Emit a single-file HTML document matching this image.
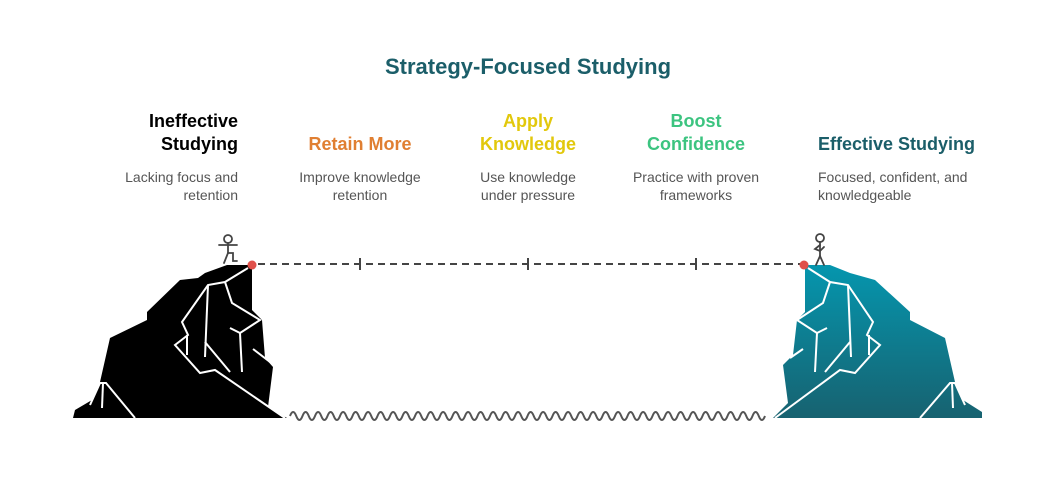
<!DOCTYPE html>
<html><head><meta charset="utf-8"><style>
html,body{margin:0;padding:0;background:#fff;}
svg{display:block;font-family:"Liberation Sans",Arial,sans-serif;}
</style></head><body>
<svg width="1056" height="492" viewBox="0 0 1056 492" xmlns="http://www.w3.org/2000/svg">
<defs>
<linearGradient id="tg" x1="0" y1="0" x2="0" y2="1">
<stop offset="0" stop-color="#0596ae"/><stop offset="1" stop-color="#176270"/>
</linearGradient>
</defs>
<text x="528" y="74" text-anchor="middle" font-size="22" font-weight="bold" fill="#1b5e69">Strategy-Focused Studying</text>

<g font-size="18" font-weight="bold">
<text x="238" y="127" text-anchor="end" fill="#000">Ineffective</text>
<text x="238" y="150" text-anchor="end" fill="#000">Studying</text>
<text x="360" y="150" text-anchor="middle" fill="#e07f32">Retain More</text>
<text x="528" y="127" text-anchor="middle" fill="#e2c80c">Apply</text>
<text x="528" y="150" text-anchor="middle" fill="#e2c80c">Knowledge</text>
<text x="696" y="127" text-anchor="middle" fill="#3cc480">Boost</text>
<text x="696" y="150" text-anchor="middle" fill="#3cc480">Confidence</text>
<text x="818" y="150" fill="#1b5e69">Effective Studying</text>
</g>
<g font-size="14" fill="#555">
<text x="238" y="182" text-anchor="end">Lacking focus and</text>
<text x="238" y="200" text-anchor="end">retention</text>
<text x="360" y="182" text-anchor="middle">Improve knowledge</text>
<text x="360" y="200" text-anchor="middle">retention</text>
<text x="528" y="182" text-anchor="middle">Use knowledge</text>
<text x="528" y="200" text-anchor="middle">under pressure</text>
<text x="696" y="182" text-anchor="middle">Practice with proven</text>
<text x="696" y="200" text-anchor="middle">frameworks</text>
<text x="818" y="182">Focused, confident, and</text>
<text x="818" y="200">knowledgeable</text>
</g>

<line x1="258" y1="264" x2="800" y2="264" stroke="#444" stroke-width="2" stroke-dasharray="7,5"/>
<g stroke="#444" stroke-width="2">
<line x1="360" y1="258" x2="360" y2="270"/>
<line x1="528" y1="258" x2="528" y2="270"/>
<line x1="696" y1="258" x2="696" y2="270"/>
</g>

<polygon fill="#000" points="73,418 75,410 92,400 100,382 110,338 147,320 147,312 180,280 198,278 205,273 227,265 252,265 252,310 262,320 265,358 273,367 268,407 287,418"/>
<g stroke="#fff" stroke-width="2" fill="none">
<polyline points="248,268 225,282 208,285 182,322 188,335 175,345 200,373 215,370 285,418"/>
<polyline points="225,282 232,303 260,320 240,333 242,372"/>
<line x1="230" y1="328" x2="240" y2="333"/>
<line x1="208" y1="285" x2="205" y2="357"/>
<line x1="187" y1="335" x2="187" y2="355"/>
<line x1="205" y1="342" x2="230" y2="372"/>
<line x1="253" y1="349" x2="270" y2="362"/>
<polyline points="90,405 100,383 106,383 135,418"/>
<line x1="103" y1="383" x2="102" y2="408"/>
</g>
<circle cx="252" cy="265" r="4.5" fill="#e0504a"/>

<polygon fill="url(#tg)" points="773,418 788,403 783,365 793,355 797,320 805,312 805,265 830,265 850,273 875,280 910,312 910,320 945,338 955,382 963,400 982,412 982,418"/>
<g stroke="#fff" stroke-width="2" fill="none">
<polyline points="808,268 830,282 848,285 873,322 867,335 880,345 855,373 840,370 775,418"/>
<polyline points="830,282 823,303 797,320 817,333 815,372"/>
<line x1="827" y1="328" x2="817" y2="333"/>
<line x1="848" y1="285" x2="851" y2="357"/>
<line x1="869" y1="335" x2="869" y2="355"/>
<line x1="850" y1="342" x2="825" y2="372"/>
<line x1="803" y1="349" x2="790" y2="358"/>
<polyline points="920,418 950,383 955,383 965,405"/>
<line x1="952" y1="383" x2="953" y2="408"/>
</g>
<circle cx="804" cy="265" r="4.5" fill="#e0504a"/>

<g stroke="#444" stroke-width="1.8" fill="none" stroke-linecap="round">
<circle cx="228" cy="239" r="4"/>
<line x1="228" y1="243" x2="228" y2="253"/>
<line x1="219" y1="245" x2="237" y2="245"/>
<polyline points="228,253 224,263"/>
<polyline points="228,253 233,253 233,261 237,261"/>
<circle cx="820" cy="238" r="4"/>
<line x1="820" y1="242" x2="820" y2="256"/>
<polyline points="820,245 815,249 820,251 824,247"/>
<line x1="820" y1="256" x2="816" y2="265"/>
<line x1="820" y1="256" x2="824" y2="265"/>
</g>

<path d="M290 416 q3.1 -8 6.25 0 t6.25 0 t6.25 0 t6.25 0 t6.25 0 t6.25 0 t6.25 0 t6.25 0 t6.25 0 t6.25 0 t6.25 0 t6.25 0 t6.25 0 t6.25 0 t6.25 0 t6.25 0 t6.25 0 t6.25 0 t6.25 0 t6.25 0 t6.25 0 t6.25 0 t6.25 0 t6.25 0 t6.25 0 t6.25 0 t6.25 0 t6.25 0 t6.25 0 t6.25 0 t6.25 0 t6.25 0 t6.25 0 t6.25 0 t6.25 0 t6.25 0 t6.25 0 t6.25 0 t6.25 0 t6.25 0 t6.25 0 t6.25 0 t6.25 0 t6.25 0 t6.25 0 t6.25 0 t6.25 0 t6.25 0 t6.25 0 t6.25 0 t6.25 0 t6.25 0 t6.25 0 t6.25 0 t6.25 0 t6.25 0 t6.25 0 t6.25 0 t6.25 0 t6.25 0 t6.25 0 t6.25 0 t6.25 0 t6.25 0 t6.25 0 t6.25 0 t6.25 0 t6.25 0 t6.25 0 t6.25 0 t6.25 0 t6.25 0 t6.25 0 t6.25 0 t6.25 0 t6.25 0" stroke="#555" stroke-width="2" fill="none"/>
</svg>
</body></html>
